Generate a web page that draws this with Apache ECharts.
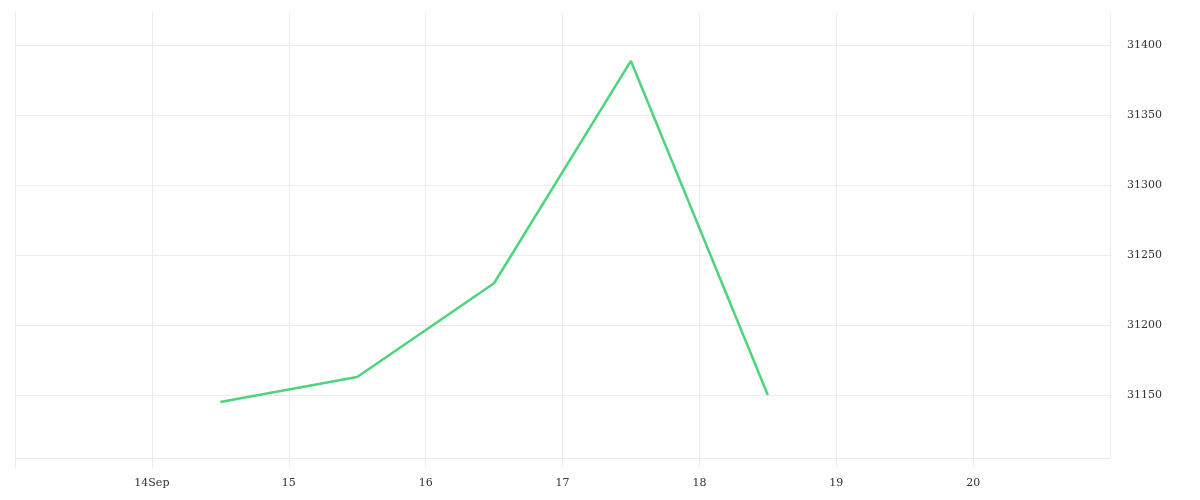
<!DOCTYPE html>
<html>
<head>
<meta charset="utf-8">
<script src="https://cdn.jsdelivr.net/npm/echarts@6/dist/echarts.min.js"></script>
<style>
  html, body { margin: 0; padding: 0; background: #fff; }
  #main { width: 1200px; height: 500px; }
</style>
</head>
<body>
<div id="main"></div>
<script>
// points sit at midday of each day
let dates = ['2020-09-14 12:00', '2020-09-15 12:00', '2020-09-16 12:00', '2020-09-17 12:00', '2020-09-18 12:00'];
let values = [31145, 31163, 31230, 31389, 31150];
let yTicks = [31150, 31200, 31250, 31300, 31350, 31400];

let DAY = 24 * 3600 * 1000;
let gridColor = '#ececec';
let fontFamily = 'DejaVu Serif';

let chart = echarts.init(document.getElementById('main'));

let seriesData = [];
for (let i = 0; i < dates.length; i++) {
  seriesData.push([dates[i], values[i]]);
}

let option = {
  animation: false,
  grid: {
    left: 15,
    right: 90,
    top: 12,
    bottom: 42
  },
  xAxis: {
    type: 'time',
    min: '2020-09-13 00:00',
    max: '2020-09-21 00:00',
    minInterval: DAY,
    maxInterval: DAY,
    axisLine: { show: true, lineStyle: { color: gridColor, width: 1 } },
    axisTick: { show: true, length: 10, lineStyle: { color: gridColor, width: 1 } },
    splitLine: { show: true, lineStyle: { color: gridColor, width: 1 } },
    axisLabel: {
      margin: 20,
      color: '#333',
      fontFamily: fontFamily,
      fontSize: 11,
      formatter: function (val) {
        let d = new Date(val);
        let day = d.getDate();
        if (day === 13 || day === 21) return '';
        if (day === 14) return '14Sep';
        return String(day);
      }
    }
  },
  yAxis: {
    type: 'value',
    position: 'right',
    min: 31105,
    max: 31424,
    axisLine: { show: false },
    axisTick: { show: false, customValues: yTicks },
    splitLine: { show: true, lineStyle: { color: gridColor, width: 1 } },
    axisLabel: {
      margin: 17,
      color: '#333',
      fontFamily: fontFamily,
      fontSize: 11,
      padding: [6, 0, 0, 0],
      customValues: yTicks,
      formatter: function (v) { return String(v); }
    }
  },
  series: [{
    type: 'line',
    data: seriesData,
    showSymbol: false,
    lineStyle: { color: '#4cd57b', width: 2.5 },
    itemStyle: { color: '#4cd57b' }
  }]
};

chart.setOption(option);
</script>
</body>
</html>
